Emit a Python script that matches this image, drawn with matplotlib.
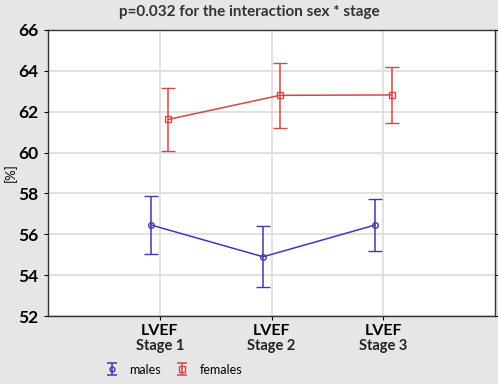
import matplotlib
matplotlib.use('Agg')
import matplotlib.pyplot as plt
import numpy as np

# Data
stages = ['Stage 1', 'Stage 2', 'Stage 3']
males_mean = [56.45, 54.9, 56.45]
males_err = [1.42, 1.5, 1.27]
females_mean = [61.62, 62.8, 62.82]
females_err = [1.55, 1.6, 1.37]
yticks = [52, 54, 56, 58, 60, 62, 64, 66]

plt.rcParams['font.family'] = ['Lato', 'DejaVu Sans']

BG = '#e6e6e6'
BLUE = '#3b3bb0'
RED = '#d04848'

fig = plt.figure(figsize=(4.98, 3.84), dpi=100, facecolor=BG)
ax = fig.add_axes([0.0964, 0.177, 0.8976, 0.745])
ax.set_facecolor('white')

x = np.arange(len(stages))
off = 0.075

ax.errorbar(x - off, males_mean, yerr=males_err, color=BLUE, lw=1.1,
            marker='o', ms=4, mfc='none', mec=BLUE, mew=1.0,
            capsize=5, capthick=1.1, elinewidth=1.1, zorder=3)
ax.errorbar(x + off, females_mean, yerr=females_err, color=RED, lw=1.1,
            marker='s', ms=4, mfc='none', mec=RED, mew=1.0,
            capsize=5, capthick=1.1, elinewidth=1.1, zorder=3)

# legend proxies: vertical error bar + marker only
h_m = ax.errorbar([np.nan], [np.nan], yerr=[1], ls='none', color=BLUE, marker='o', ms=3.5,
                  mfc='none', mec=BLUE, capsize=3.5, elinewidth=1.1, capthick=1.1)
h_f = ax.errorbar([np.nan], [np.nan], yerr=[1], ls='none', color=RED, marker='s', ms=4,
                  mfc='none', mec=RED, capsize=3.5, elinewidth=1.1, capthick=1.1)

ax.set_xlim(-1, 3)
ax.set_ylim(52, 66)
ax.set_xticks(x)
ax.set_xticklabels(['LVEF'] * len(stages), fontsize=11.5, fontweight='bold')
for xi, st in zip(x, stages):
    ax.text(xi, -0.105, st, transform=ax.get_xaxis_transform(), ha='center', va='center',
            fontsize=10.5, fontweight='bold', color='#222222')
ax.set_yticks(yticks)
ax.set_yticklabels([str(v) for v in yticks], fontsize=12.5, fontweight='bold')
ax.grid(True, color='#dedede', lw=1.3)
ax.set_axisbelow(True)
ax.tick_params(axis='y', length=3, pad=4, right=True, direction='out')
ax.tick_params(axis='x', length=3, direction='out', pad=3)
for s in ax.spines.values():
    s.set_color('#333333')
    s.set_linewidth(1.0)

ax.set_ylabel('[%]', fontsize=9.5)
ax.yaxis.set_label_coords(-0.07, 0.5)
fig.text(0.5, 0.969, 'p=0.032 for the interaction sex * stage',
         ha='center', va='center', fontsize=11, fontweight='bold', color='#333333')

leg = fig.legend([h_m, h_f], ['males', 'females'], loc='center',
                 bbox_to_anchor=(0.35, 0.036), ncol=2,
                 frameon=False, fontsize=9, handlelength=0.8, columnspacing=1.3,
                 handletextpad=1.0, handleheight=1.2)

fig.savefig('out.png', dpi=100, facecolor=BG)
